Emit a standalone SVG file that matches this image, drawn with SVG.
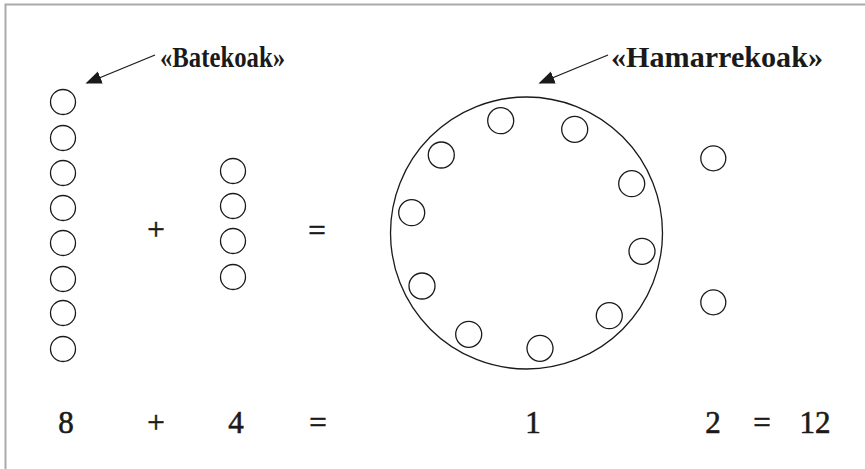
<svg xmlns="http://www.w3.org/2000/svg" width="865" height="469" viewBox="0 0 865 469">
<style>
.c{fill:none;stroke:#1a1a1a;stroke-width:1.3}
.tx{font-family:'Liberation Serif','Times New Roman','DejaVu Serif',serif;fill:#1a1a1a}
.lbl{font-size:29px;font-weight:bold}
.num{font-size:31px;text-anchor:middle;stroke:#1a1a1a;stroke-width:0.6}
.ar{stroke:#1a1a1a;stroke-width:1.3;fill:none}
</style>
<defs>
<marker id="ah" viewBox="0 0 10 10" refX="9" refY="5" markerWidth="16" markerHeight="16" markerUnits="userSpaceOnUse" orient="auto">
<path d="M0,1 L10,5 L0,9 z" fill="#1a1a1a"/>
</marker>
</defs>
<rect width="865" height="469" fill="#fff"/>
<path d="M5.5,469 V4.5 H865" fill="none" stroke="#aaa" stroke-width="2"/>
<g id="ones">
<circle class="c" cx="63" cy="102" r="12.5"/>
<circle class="c" cx="63" cy="138" r="12.5"/>
<circle class="c" cx="63" cy="173" r="12.5"/>
<circle class="c" cx="63" cy="208" r="12.5"/>
<circle class="c" cx="63" cy="243" r="12.5"/>
<circle class="c" cx="63" cy="279" r="12.5"/>
<circle class="c" cx="63" cy="313" r="12.5"/>
<circle class="c" cx="63" cy="349" r="12.5"/>
</g>
<g id="four">
<circle class="c" cx="233" cy="171" r="12.5"/>
<circle class="c" cx="233" cy="206" r="12.5"/>
<circle class="c" cx="233" cy="241" r="12.5"/>
<circle class="c" cx="233" cy="277" r="12.5"/>
</g>
<g id="ten">
<circle class="c" cx="526.5" cy="233" r="136"/>
<circle class="c" cx="500.7" cy="120.7" r="13"/>
<circle class="c" cx="574.7" cy="129.3" r="13"/>
<circle class="c" cx="441.3" cy="155" r="13"/>
<circle class="c" cx="631.7" cy="183.7" r="13"/>
<circle class="c" cx="411.7" cy="212.7" r="13"/>
<circle class="c" cx="642" cy="251.3" r="13"/>
<circle class="c" cx="422" cy="286" r="13"/>
<circle class="c" cx="609.3" cy="315.7" r="13"/>
<circle class="c" cx="468.7" cy="334.3" r="13"/>
<circle class="c" cx="540" cy="348.3" r="13"/>
</g>
<g id="two">
<circle class="c" cx="713.3" cy="158.3" r="12.5"/>
<circle class="c" cx="713.3" cy="302.3" r="12.5"/>
</g>
<g id="label-batekoak">
<text class="tx lbl" x="160" y="67" textLength="125" lengthAdjust="spacingAndGlyphs">«Batekoak»</text>
</g>
<g id="label-hamarrekoak">
<text class="tx lbl" x="611" y="67" textLength="212" lengthAdjust="spacingAndGlyphs">«Hamarrekoak»</text>
</g>
<g id="connectors">
<line class="ar" x1="155" y1="55" x2="87" y2="83" marker-end="url(#ah)"/>
<line class="ar" x1="608" y1="55" x2="540" y2="83" marker-end="url(#ah)"/>
</g>
<g id="ops">
<text class="tx num" x="156" y="240">+</text>
<text class="tx num" x="317" y="241">=</text>
</g>
<g id="bottom">
<text class="tx num" x="66" y="433">8</text>
<text class="tx num" x="156" y="433">+</text>
<text class="tx num" x="236" y="433">4</text>
<text class="tx num" x="318" y="433">=</text>
<text class="tx num" x="533" y="433">1</text>
<text class="tx num" x="713" y="433">2</text>
<text class="tx num" x="762" y="433">=</text>
<text class="tx num" x="815" y="433">12</text>
</g>
</svg>
